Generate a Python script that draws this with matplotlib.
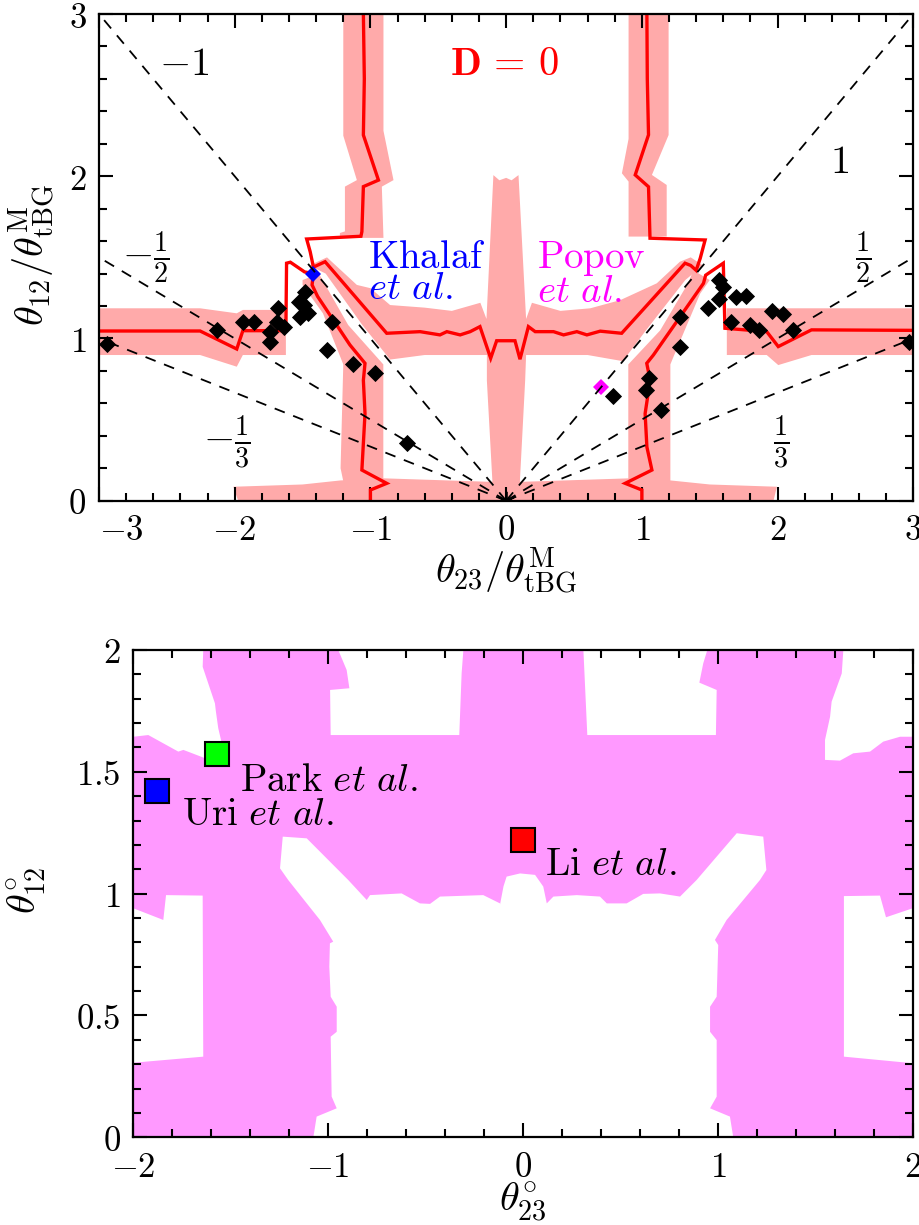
import matplotlib
matplotlib.use('Agg')
import matplotlib.pyplot as plt
from matplotlib.ticker import MultipleLocator

plt.rcParams['mathtext.fontset'] = 'cm'
plt.rcParams['font.family'] = ['DejaVu Serif']

# ================= data : top panel =================
top_xticks = [-3, -2, -1, 0, 1, 2, 3]
top_yticks = [0, 1, 2, 3]

ray_slopes = [1, -1, 1/2, -1/2, 1/3, -1/3]
ray_labels = [r'$1$', r'$-1$', r'$\frac{1}{2}$', r'$-\frac{1}{2}$', r'$\frac{1}{3}$', r'$-\frac{1}{3}$']
ray_label_x = [2.454, -2.373, 2.627, -2.655, 2.025, -2.058]
ray_label_y = [2.018, 2.625, 1.499, 1.500, 0.359, 0.359]
ray_label_va = ['baseline', 'baseline', 'center', 'center', 'center', 'center']

# pink (shaded) regions around D = 0
pink_L_upper = [(-1.20, 3.0), (-0.904, 3.0), (-0.904, 2.28), (-0.83, 1.976), (-0.916, 1.936),
                (-0.904, 1.62), (-1.225, 1.62), (-1.225, 1.65), (-1.188, 1.66), (-1.188, 1.936),
                (-1.10, 1.976), (-1.20, 2.25)]
pink_R_upper = [(0.902, 3.0), (1.197, 3.0), (1.197, 2.254), (1.074, 2.008), (1.183, 1.946),
                (1.183, 1.628), (0.902, 1.628), (0.902, 1.967), (0.853, 2.018), (0.902, 2.23)]
pink_L_band = [(-3.0, 1.186), (-2.255, 1.186), (-1.985, 1.155), (-1.94, 1.176), (-1.623, 1.176),
               (-1.623, 0.898), (-1.94, 0.898), (-1.985, 0.826), (-2.255, 0.898), (-3.0, 0.898)]
pink_R_band = [(1.626, 1.186), (3.0, 1.186), (3.0, 0.898), (2.25, 0.898), (2.005, 0.836),
               (1.92, 0.898), (1.626, 0.898)]
pink_L_diag = [(-1.50, 1.36), (-1.38, 1.40), (-1.164, 1.083), (-0.905, 0.84), (-0.905, 0.12),
               (-1.20, 0.12), (-1.22, 0.20), (-1.20, 0.84), (-1.35, 1.155), (-1.50, 1.33)]
pink_R_diag = [(1.50, 1.36), (1.38, 1.42), (1.34, 1.34), (1.135, 1.05), (0.90, 0.84), (0.90, 0.12),
               (1.21, 0.12), (1.21, 0.84), (1.233, 0.887), (1.43, 1.277)]
pink_center = [(-1.45, 1.45), (-1.32, 1.50), (-1.10, 1.33), (-1.0, 1.31), (-0.855, 1.206),
               (-0.60, 1.19), (-0.40, 1.17), (-0.19, 1.22), (-0.145, 1.12), (-0.094, 2.007),
               (-0.05, 1.975), (0.0, 1.99), (0.04, 1.975), (0.091, 2.007), (0.147, 1.12),
               (0.19, 1.22), (0.40, 1.17), (0.62, 1.186), (0.84, 1.236), (1.11, 1.34),
               (1.28, 1.473), (1.36, 1.50), (1.45, 1.45), (1.32, 1.36), (1.03, 1.05), (0.86, 0.86),
               (0.60, 0.898), (0.147, 0.898), (0.14, 0.74), (0.10, 0.10), (-0.10, 0.10),
               (-0.142, 0.74), (-0.142, 0.898), (-0.60, 0.898), (-0.855, 0.87), (-1.06, 1.083),
               (-1.33, 1.40)]
pink_bottom = [(-2.01, 0.086), (-1.5, 0.10), (-1.22, 0.125), (-0.905, 0.138), (-0.142, 0.117),
               (0.14, 0.117), (0.912, 0.138), (1.21, 0.125), (1.5, 0.10), (1.995, 0.086),
               (1.97, 0.0), (-1.975, 0.0)]
pink_regions = [pink_L_upper, pink_R_upper, pink_L_band, pink_R_band, pink_L_diag,
                pink_R_diag, pink_center, pink_bottom]

# D = 0 contour lines
line_B = [(-1.052, 3.0), (-1.045, 2.6), (-1.052, 2.254), (-0.941, 1.976), (-1.052, 1.936),
          (-1.063, 1.658), (-1.07, 1.63), (-1.47, 1.613), (-1.444, 1.535), (-1.42, 1.44),
          (-1.334, 1.473), (-0.88, 1.032), (-0.634, 1.042), (-0.488, 1.022), (-0.437, 1.042),
          (-0.339, 1.022), (-0.265, 1.042), (-0.193, 1.073), (-0.114, 0.878), (-0.07, 0.986),
          (0.065, 0.986), (0.102, 0.872), (0.164, 1.073), (0.214, 1.042), (0.349, 1.042),
          (0.423, 1.022), (0.521, 1.042), (0.595, 1.022), (0.693, 1.045), (0.851, 1.032),
          (1.318, 1.464), (1.36, 1.45), (1.40, 1.42), (1.43, 1.494), (1.466, 1.607),
          (1.06, 1.618), (1.049, 1.935), (0.951, 2.008), (1.049, 2.255), (1.04, 2.6), (1.037, 3.0)]
line_A_left = [(-3.0, 1.046), (-2.255, 1.046), (-1.985, 0.935), (-1.94, 1.048), (-1.623, 1.048),
               (-1.618, 1.464), (-1.59, 1.47), (-1.485, 1.41), (-1.42, 1.40), (-1.43, 1.33),
               (-1.39, 1.26), (-1.151, 0.96), (-1.04, 0.847), (-1.052, 0.742), (-1.04, 0.537),
               (-1.052, 0.354), (-1.063, 0.189), (-0.88, 0.107), (-1.0, 0.066), (-1.0, 0.0)]
line_A_right = [(3.0, 1.05), (2.25, 1.053), (2.005, 0.95), (1.92, 1.042), (1.612, 1.063),
                (1.60, 1.464), (1.47, 1.39), (1.454, 1.34), (1.085, 0.898), (1.036, 0.847),
                (1.061, 0.742), (1.024, 0.537), (1.037, 0.331), (1.074, 0.189), (0.877, 0.107),
                (1.0, 0.066), (1.0, 0.0)]
contour_lines = [line_B, line_A_left, line_A_right]

# black diamonds
diam_x = [-2.94, -2.13, -1.94, -1.857, -1.74, -1.74, -1.678, -1.69, -1.64, -1.53, -1.48, -1.49,
          -1.457, -1.518, -1.285, -1.32, -1.13, -0.965, -0.73,
          2.97, 1.28, 1.28, 1.056, 1.03, 1.14, 0.786, 1.565, 1.60, 1.565, 1.49, 1.69, 1.77,
          1.66, 1.80, 1.86, 1.96, 2.04, 2.11]
diam_y = [0.967, 1.055, 1.10, 1.10, 1.04, 0.98, 1.186, 1.104, 1.073, 1.226, 1.287, 1.206,
          1.155, 1.134, 1.104, 0.93, 0.84, 0.79, 0.356,
          0.98, 1.13, 0.95, 0.755, 0.68, 0.556, 0.644, 1.358, 1.317, 1.245, 1.19, 1.255, 1.26,
          1.10, 1.08, 1.05, 1.17, 1.15, 1.05]
khalaf_pt = (-1.42, 1.40)
popov_pt = (0.70, 0.70)

# ================= data : bottom panel =================
bot_xticks = [-2, -1, 0, 1, 2]
bot_yticks = [0, 0.5, 1, 1.5, 2]
bot_ytick_labels = ['0', '0.5', '1', '1.5', '2']

magenta_full = [(-2, 0), (2, 0), (2, 2), (-2, 2)]
hole_TL = [(-2, 2), (-1.641, 2), (-1.644, 1.931), (-1.581, 1.781), (-1.576, 1.747), (-1.564, 1.679),
           (-1.538, 1.59), (-1.632, 1.556), (-1.743, 1.59), (-1.769, 1.583), (-1.923, 1.651),
           (-2, 1.644)]
hole_TC1 = [(-0.948, 2), (-0.905, 1.918), (-0.891, 1.843), (-0.99, 1.836), (-0.987, 1.651),
            (-0.327, 1.651), (-0.315, 1.904), (-0.306, 2)]
hole_TC2 = [(0.310, 2), (0.330, 1.651), (0.990, 1.651), (0.994, 1.836), (0.905, 1.866),
            (0.925, 1.945), (0.946, 2)]
hole_TR = [(1.644, 2), (1.636, 1.904), (1.584, 1.788), (1.576, 1.726), (1.55, 1.631), (1.55, 1.549),
           (1.627, 1.546), (1.695, 1.576), (1.781, 1.583), (1.849, 1.624), (1.935, 1.644), (2, 1.644),
           (2, 2)]
hole_ML = [(-2, 0.940), (-1.846, 0.892), (-1.832, 0.994), (-1.644, 0.992), (-1.641, 0.331),
           (-2, 0.306)]
hole_MR = [(1.647, 0.990), (1.832, 0.992), (1.863, 0.903), (2, 0.940), (2, 0.304), (1.647, 0.331)]
hole_C = [(-1.076, 0), (-1.059, 0.085), (-0.956, 0.119), (-0.982, 0.167), (-0.987, 0.413),
          (-0.956, 0.433), (-0.956, 0.536), (-0.987, 0.577), (-0.994, 0.700), (-0.991, 0.796),
          (-0.974, 0.803), (-1.042, 0.892), (-1.205, 1.056), (-1.247, 1.104), (-1.233, 1.234),
          (-1.110, 1.227), (-0.897, 1.056), (-0.802, 0.974), (-0.785, 0.994), (-0.623, 1.001),
          (-0.529, 0.960), (-0.477, 0.958), (-0.426, 0.988), (-0.204, 0.994), (-0.118, 0.960),
          (-0.118, 0.955), (-0.10, 1.03), (-0.084, 1.07), (-0.015, 1.083), (0.062, 1.077),
          (0.104, 1.029), (0.122, 0.96), (0.156, 0.988), (0.276, 0.994), (0.395, 0.988),
          (0.43, 0.96), (0.532, 0.96), (0.617, 0.999), (0.703, 1.001), (0.806, 0.988),
          (0.891, 1.056), (1.097, 1.248), (1.233, 1.234), (1.249, 1.097), (1.216, 1.056),
          (1.045, 0.892), (0.985, 0.810), (1.002, 0.789), (0.994, 0.577), (0.960, 0.536),
          (0.960, 0.433), (0.994, 0.399), (0.994, 0.167), (0.960, 0.119), (1.062, 0.085),
          (1.079, 0)]
white_holes = [hole_TL, hole_TC1, hole_TC2, hole_TR, hole_ML, hole_MR, hole_C]

exp_names = ['Uri', 'Park', 'Li']
exp_x = [-1.877, -1.568, 0.002]
exp_y = [1.422, 1.572, 1.220]
exp_colors = ['#0000ff', '#00ff00', '#ff0000']
exp_label_x = [-1.752, -1.452, 0.113]
exp_label_y = [1.282, 1.421, 1.077]

PINK = '#ffaaaa'
MAGENTA = '#ff99ff'

# ================= figure =================
fig = plt.figure(figsize=(9.2, 12.25), dpi=100)
ax1 = fig.add_axes([99 / 920, 1 - 500.7 / 1225, 814.3 / 920, 486.7 / 1225])
ax2 = fig.add_axes([133.3 / 920, 1 - 1137.3 / 1225, 779.4 / 920, 487.3 / 1225])


def style(ax, xminor, yminor):
    ax.tick_params(which='both', direction='in', top=True, right=True, width=1.5,
                   labelsize=25, pad=9)
    ax.tick_params(which='major', length=10)
    ax.tick_params(which='minor', length=5.5)
    ax.xaxis.set_minor_locator(MultipleLocator(xminor))
    ax.yaxis.set_minor_locator(MultipleLocator(yminor))
    for s in ax.spines.values():
        s.set_linewidth(1.6)
        s.set_zorder(10)


# ---------- top panel ----------
for poly in pink_regions:
    xs, ys = zip(*poly)
    ax1.fill(xs, ys, color=PINK, lw=0, zorder=1)
for ln in contour_lines:
    xs, ys = zip(*ln)
    ax1.plot(xs, ys, color='#ff0000', lw=2.4, zorder=2, solid_joinstyle='miter')

ax1.plot(diam_x, diam_y, 'D', color='black', ms=7.8, mew=0.6, zorder=3)
ax1.plot(*khalaf_pt, 'D', color='#0000ff', ms=7.8, mew=0, zorder=3)
ax1.plot(*popov_pt, 'D', color='#ff00ff', ms=7.8, mew=0, zorder=3)

for s in ray_slopes:
    xe = 3.0 if s > 0 else -3.0
    ax1.plot([0, xe], [0, abs(s) * 3.0], color='black', lw=1.3, dashes=(6, 5), zorder=4)
ax1.plot(0, 0, marker=(6, 2, 0), color='black', ms=14, mew=1.3, zorder=4)

for lab, x, y, va in zip(ray_labels, ray_label_x, ray_label_y, ray_label_va):
    ax1.text(x, y, lab, fontsize=29, ha='center', va=va, zorder=5)

ax1.text(-0.016, 2.625, r'$\mathbf{D}\,=\,0$', color='#ff0000', fontsize=29, ha='center',
         va='baseline', zorder=5)
ax1.text(-1.018, 1.432, r'$\mathrm{Khalaf}$', color='#0000ff', fontsize=28, ha='left',
         va='baseline', zorder=5)
ax1.text(-1.018, 1.244, r'$\mathit{et\ al.}$', color='#0000ff', fontsize=28, ha='left',
         va='baseline', zorder=5)
ax1.text(0.225, 1.437, r'$\mathrm{Popov}$', color='#ff00ff', fontsize=28, ha='left',
         va='baseline', zorder=5)
ax1.text(0.225, 1.227, r'$\mathit{et\ al.}$', color='#ff00ff', fontsize=28, ha='left',
         va='baseline', zorder=5)

ax1.set_xlim(-3, 3)
ax1.set_ylim(0, 3)
ax1.set_xticks(top_xticks, labels=[f'${v}$' for v in top_xticks])
ax1.set_yticks(top_yticks, labels=[f'${v}$' for v in top_yticks])
style(ax1, 0.2, 0.2)
ax1.get_xticklabels()[0].set_horizontalalignment('left')
ax1.set_xlabel(r'$\theta_{23}/\theta^{\mathrm{M}}_{\mathrm{tBG}}$', fontsize=29)
ax1.set_ylabel(r'$\theta_{12}/\theta^{\mathrm{M}}_{\mathrm{tBG}}$', fontsize=29)
ax1.xaxis.set_label_coords(0.5, -0.092)
ax1.yaxis.set_label_coords(-0.05, 0.505)

# ---------- bottom panel ----------
xs, ys = zip(*magenta_full)
ax2.fill(xs, ys, color=MAGENTA, lw=0, zorder=1)
for poly in white_holes:
    xs, ys = zip(*poly)
    ax2.fill(xs, ys, color='white', lw=0, zorder=1.5)

for name, x, y, c, lx, ly in zip(exp_names, exp_x, exp_y, exp_colors, exp_label_x, exp_label_y):
    ax2.plot(x, y, 's', color=c, ms=17, mec='black', mew=1.5, zorder=5)
    ax2.text(lx, ly, r'$\mathrm{' + name + r'}\ \mathit{et\ al.}$', fontsize=28, ha='left',
             va='baseline', zorder=5)

ax2.set_xlim(-2, 2)
ax2.set_ylim(0, 2)
ax2.set_xticks(bot_xticks, labels=[f'${v}$' for v in bot_xticks])
ax2.set_yticks(bot_yticks, labels=[f'${v}$' for v in bot_ytick_labels])
style(ax2, 0.2, 0.1)
ax2.set_xlabel(r'$\theta_{23}^{\circ}$', fontsize=29)
ax2.set_ylabel(r'$\theta_{12}^{\circ}$', fontsize=29)
ax2.xaxis.set_label_coords(0.5, -0.088)
ax2.yaxis.set_label_coords(-0.11, 0.507)

fig.savefig('out.png', dpi=100)
